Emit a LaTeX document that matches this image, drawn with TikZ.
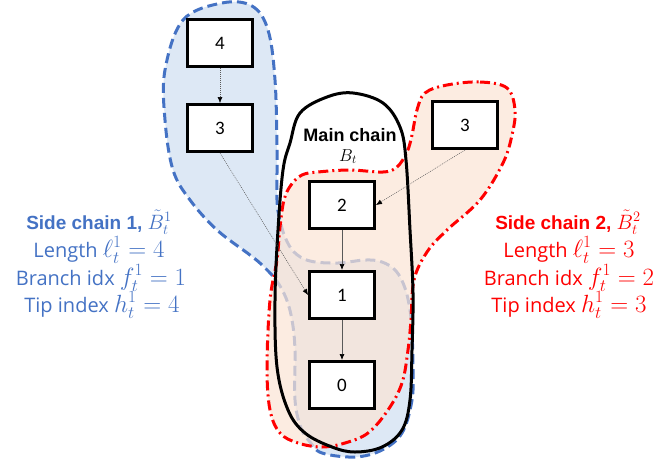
\documentclass[tikz,border=0pt]{standalone}
\usepackage{fontspec}
\setmainfont{Open Sans}
\newfontfamily\boldsans{Liberation Sans}
\newfontfamily\boxfont{Carlito}
\usetikzlibrary{arrows.meta}
\definecolor{chainblue}{HTML}{4472C4}
\definecolor{bluefill}{HTML}{DDE8F5}
\definecolor{orangefill}{HTML}{FBE5D6}
\definecolor{chainred}{HTML}{FF0000}
\definecolor{arrowgrey}{HTML}{595959}
\newcommand{\bigmath}[1]{{\fontsize{24}{24}\selectfont$#1$}}
\begin{document}
\begin{tikzpicture}[x=1pt,y=-1pt,
  blockbox/.style={draw=black, line width=3pt, fill=white, minimum width=65pt, minimum height=47pt, inner sep=0pt, font=\boxfont\fontsize{19}{19}\selectfont},
  link/.style={draw=arrowgrey, line width=0.7pt, -{Latex[length=6pt,width=5pt,color=black]}},
  dotlink/.style={draw=arrowgrey, line width=0.5pt, dash pattern=on 1pt off 1pt, -{Latex[length=6pt,width=5pt,color=black]}},
  sidebluezone/.style={fill=bluefill, draw=chainblue, line width=3pt, dash pattern=on 10pt off 5pt},
  sideredzone/.style={fill=orangefill, fill opacity=0.72, draw=chainred, line width=3pt, dash pattern=on 10pt off 4pt on 2pt off 4pt},
  mainzone/.style={draw=black, line width=3pt},
  bluetxt/.style={anchor=base, inner sep=0pt, text=chainblue, font=\fontsize{20}{20}\selectfont},
  redtxt/.style={anchor=base, inner sep=0pt, text=chainred, font=\fontsize{20}{20}\selectfont},
  bluehead/.style={anchor=base, inner sep=0pt, text=chainblue, font=\boldsans\bfseries\fontsize{19}{19}\selectfont},
  redhead/.style={anchor=base, inner sep=0pt, text=chainred, font=\boldsans\bfseries\fontsize{19}{19}\selectfont}
]
\useasboundingbox (0,0) rectangle (660,463);

% side chain 1 region
\path[sidebluezone] plot[smooth cycle, tension=0.6] coordinates {
 (222,3) (252,6) (268,30) (275,80) (277,150) (277,200) (280,220) (285,237)
 (294,252) (310,261) (338,263) (365,260) (382,262) (396,271) (405,288)
 (410,310) (412,333) (413,367) (412,400) (402,433) (382,450) (355,457)
 (322,453) (310,442) (301,428) (295,400) (295,350) (292,320) (286,298)
 (276,280) (262,265) (250,255) (217,230) (190,200) (173,170) (165,120)
 (165,70) (183,20)};

% side chain 2 region
\path[sideredzone] plot[smooth cycle, tension=0.6] coordinates {
 (447,85) (480,82) (507,88) (515,110) (512,135) (503,163) (480,200)
 (447,230) (427,252) (414,280) (411,320) (408,350) (402,383) (388,410)
 (368,433) (345,443) (322,447) (298,443) (280,433) (270,410) (267,367)
 (270,300) (277,260) (280,227) (284,200) (291,185) (302,175) (318,172)
 (350,170) (383,172) (397,167) (407,152) (412,135) (417,110) (425,93)};

% main chain
\path[mainzone] plot[smooth cycle, tension=0.6] coordinates {
 (353,93) (383,103) (400,127) (406,160) (410,230) (413,293) (412,350)
 (410,400) (402,430) (382,447) (355,452) (332,447) (305,433) (288,410)
 (277,367) (275,300) (278,230) (283,170) (290,143) (300,113) (327,97)};

% blocks
\node[blockbox] (b4)  at (220,43)  {4};
\node[blockbox] (b3l) at (220,128) {3};
\node[blockbox] (b2)  at (342,205) {2};
\node[blockbox] (b1)  at (342,295) {1};
\node[blockbox] (b0)  at (342,385) {0};
\node[blockbox] (b3r) at (465,125) {3};

% connectors
\draw[link] (b2) -- (b1);
\draw[link] (b1) -- (b0);
\draw[dotlink] (b4) -- (b3l);
\draw[dotlink] (b3l.south) -- (b1.west);
\draw[dotlink] (b3r.south) -- (b2.east);

% main chain label
\node[anchor=base, font=\boldsans\bfseries\fontsize{18}{18}\selectfont] (mctitle) at (350,141) {Main chain};
\node[anchor=base, font=\fontsize{18}{18}\selectfont] (mcsym) at (348,161) {$B_t$};

% side chain 1 text
\node[bluehead] (s1a) at (99,229) {Side chain 1, {\fontsize{21}{21}\selectfont$\tilde{B}_t^1$}};
\node[bluetxt] (s1b) at (99,257) {Length \bigmath{\ell_t^1 = 4}};
\node[bluetxt] (s1c) at (101,285) {Branch idx \bigmath{f_t^1 = 1}};
\node[bluetxt] (s1d) at (102,312) {Tip index \bigmath{h_t^1 = 4}};

% side chain 2 text
\node[redhead] (s2a) at (568,229) {Side chain 2, {\fontsize{21}{21}\selectfont$\tilde{B}_t^2$}};
\node[redtxt] (s2b) at (569,257) {Length \bigmath{\ell_t^1 = 3}};
\node[redtxt] (s2c) at (569,285) {Branch idx \bigmath{f_t^1 = 2}};
\node[redtxt] (s2d) at (569,312) {Tip index \bigmath{h_t^1 = 3}};
\end{tikzpicture}
\end{document}
